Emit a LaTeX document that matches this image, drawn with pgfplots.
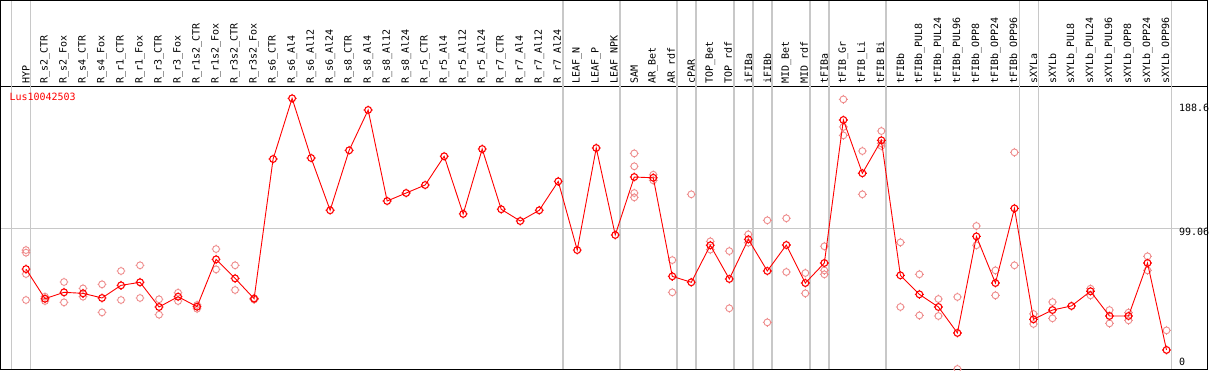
\documentclass[border=0pt]{standalone}
\usepackage{pgfplots}
\usepackage{pgfplotstable}
\pgfplotsset{compat=1.18}
\usepackage{fontspec}
\setmainfont{DejaVu Sans Mono}
\definecolor{rep}{RGB}{238,140,140}
\definecolor{gridg}{RGB}{200,200,200}
\pgfdeclareplotmark{tcirc}{%
  \pgfpathcircle{\pgfpointorigin}{\pgfplotmarksize}%
  \pgfpathmoveto{\pgfpoint{0pt}{\pgfplotmarksize}}\pgfpathlineto{\pgfpoint{0pt}{1.3\pgfplotmarksize}}%
  \pgfpathmoveto{\pgfpoint{0pt}{-\pgfplotmarksize}}\pgfpathlineto{\pgfpoint{0pt}{-1.3\pgfplotmarksize}}%
  \pgfpathmoveto{\pgfpoint{\pgfplotmarksize}{0pt}}\pgfpathlineto{\pgfpoint{1.3\pgfplotmarksize}{0pt}}%
  \pgfpathmoveto{\pgfpoint{-\pgfplotmarksize}{0pt}}\pgfpathlineto{\pgfpoint{-1.3\pgfplotmarksize}{0pt}}%
  \pgfusepathqstroke}
\pgfplotstableread{
x y
0 71.0
1 50.6
2 55.0
3 54.3
4 51.1
5 59.8
6 61.9
7 44.9
8 52.0
9 45.1
10 77.7
11 64.6
12 50.6
13 146.8
14 188.6
15 147.5
16 111.5
17 152.8
18 180.6
19 117.9
20 123.4
21 128.9
22 148.7
23 109.0
24 153.7
25 112.2
26 104.1
27 111.5
28 131.4
29 84.1
30 154.4
31 94.5
32 134.4
33 133.9
34 66.0
35 61.9
36 87.4
37 64.2
38 91.5
39 69.7
40 87.6
41 61.4
42 75.2
43 173.7
44 137.0
45 159.7
46 66.7
47 53.6
48 44.9
49 27.0
50 93.5
51 61.4
52 112.8
53 36.4
54 42.8
55 45.6
56 55.7
57 38.7
58 38.7
59 75.2
60 15.3
}\means
\pgfplotstableread{
x y
0 84.1
0 82.3
0 67.6
0 49.7
1 52.0
1 49.0
2 62.1
2 48.1
3 57.7
3 52.0
4 60.5
4 41.2
5 69.7
5 49.7
6 73.6
6 51.1
7 50.2
7 39.6
8 54.7
8 49.0
9 46.3
9 43.7
10 84.8
10 70.8
11 73.6
11 56.6
12 51.0
12 50.0
32 150.7
32 141.8
32 123.4
32 120.4
33 136.0
33 132.1
34 77.2
34 55.0
35 122.5
35 1.3
36 90.1
36 84.4
37 83.4
37 44.0
38 94.9
38 89.2
39 104.6
39 34.3
40 106.0
40 69.0
41 68.3
41 54.3
42 86.7
42 70.1
42 67.4
43 187.9
43 168.9
43 163.1
44 152.3
44 122.5
45 166.1
45 157.6
45 155.8
46 89.4
46 44.9
47 67.4
47 39.1
48 50.4
48 38.7
49 51.8
49 2.2
50 100.7
50 87.4
51 70.1
51 52.9
52 151.4
52 73.6
53 40.1
53 33.2
54 48.3
54 37.1
56 57.5
56 52.9
57 42.8
57 33.6
58 41.0
58 35.7
59 79.8
59 70.1
60 28.8
60 1.8
}\reps
\begin{document}
\begin{tikzpicture}
\begin{axis}[
  scale only axis, width=1206pt, height=283pt,
  xmin=-1.315, xmax=62.13, ymin=2.17, ymax=197.1,
  axis line style={black, line width=1pt},
  xtick={0,...,60},
  xticklabels={HYP,R\_s2\_CTR,R\_s2\_Fox,R\_s4\_CTR,R\_s4\_Fox,R\_r1\_CTR,R\_r1\_Fox,R\_r3\_CTR,R\_r3\_Fox,R\_r1s2\_CTR,R\_r1s2\_Fox,R\_r3s2\_CTR,R\_r3s2\_Fox,R\_s6\_CTR,R\_s6\_Al4,R\_s6\_Al12,R\_s6\_Al24,R\_s8\_CTR,R\_s8\_Al4,R\_s8\_Al12,R\_s8\_Al24,R\_r5\_CTR,R\_r5\_Al4,R\_r5\_Al12,R\_r5\_Al24,R\_r7\_CTR,R\_r7\_Al4,R\_r7\_Al12,R\_r7\_Al24,LEAF\_N,LEAF\_P,LEAF\_NPK,SAM,AR\_Bet,AR\_rdf,cPAR,TOP\_Bet,TOP\_rdf,iFIBa,iFIBb,MID\_Bet,MID\_rdf,tFIBa,tFIB\_Gr,tFIB\_Li,tFIB\_Bi,tFIBb,tFIBb\_PUL8,tFIBb\_PUL24,tFIBb\_PUL96,tFIBb\_OPP8,tFIBb\_OPP24,tFIBb\_OPP96,sXYLa,sXYLb,sXYLb\_PUL8,sXYLb\_PUL24,sXYLb\_PUL96,sXYLb\_OPP8,sXYLb\_OPP24,sXYLb\_OPP96},
  xticklabel pos=right,
  xticklabel style={rotate=90, anchor=west, inner xsep=2.5pt, inner ysep=0pt, font=\fontsize{10}{10}\selectfont},
  major tick length=0pt,
  ytick={99.06}, yticklabels={},
  ymajorgrids, grid style={gridg, line width=1pt},
  clip mode=individual,
]
\pgfplotsinvokeforeach{-0.753,0.247,28.247,31.247,34.247,35.247,37.247,38.247,39.247,41.247,42.247,45.247,52.247,53.247,60.247}{
  \draw[gridg, line width=1.2pt] (axis cs:#1,2.17) -- (axis cs:#1,256);
}
\draw[black, line width=1pt] (rel axis cs:0,1) -- (rel axis cs:0,1.3021) -- (rel axis cs:1,1.3021) -- (rel axis cs:1,1);
\addplot[only marks, mark=tcirc, mark size=3.4pt, mark options={draw=rep, line width=0.9pt}] table[x=x,y=y] {\reps};
\addplot[red, line width=0.9pt, mark=tcirc, mark size=3.4pt, mark options={draw=red, line width=1.1pt}] table[x=x,y=y] {\means};
\node[anchor=west, inner sep=0pt, red, font=\fontsize{10}{10}\selectfont] at (rel axis cs:0.0069,0.961) {Lus10042503};
\node[anchor=west, inner sep=0pt, font=\fontsize{10}{10}\selectfont] at (axis cs:60.65,182.2) {188.6};
\node[anchor=west, inner sep=0pt, font=\fontsize{10}{10}\selectfont] at (axis cs:60.65,96.8) {99.06};
\node[anchor=west, inner sep=0pt, font=\fontsize{10}{10}\selectfont] at (axis cs:60.65,7.2) {0};
\coordinate (BL) at (rel axis cs:-0.000829,-0.00353);
\coordinate (TR) at (rel axis cs:1.001658,1.30389);
\end{axis}
\pgfresetboundingbox
\path[use as bounding box] (BL) rectangle (TR);
\end{tikzpicture}
\end{document}
